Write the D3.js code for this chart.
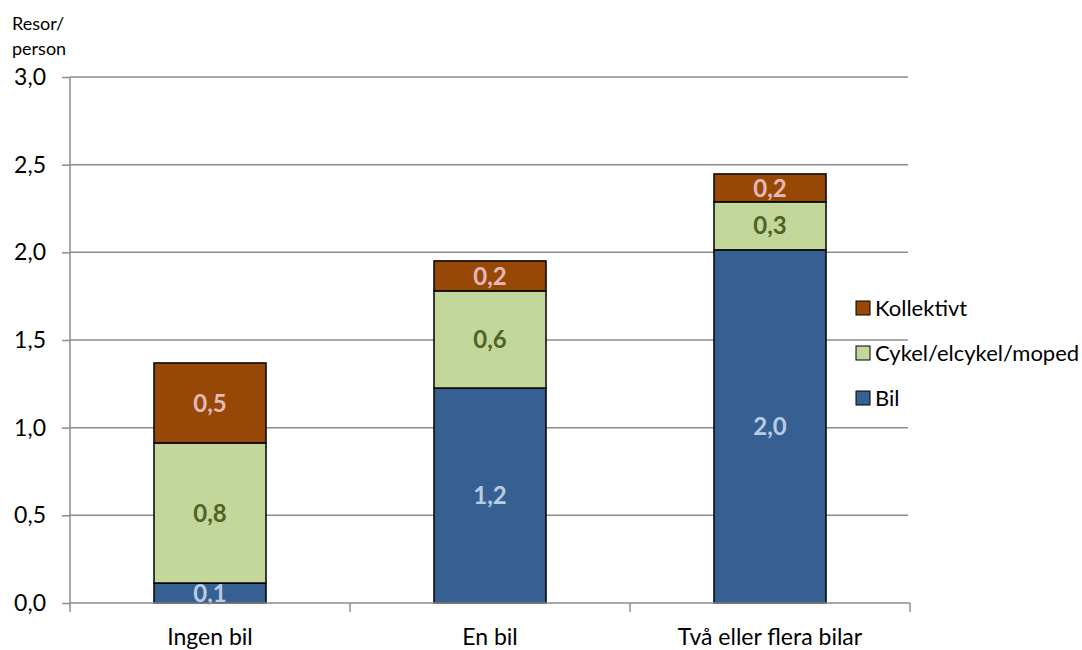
<!DOCTYPE html>
<html>
<head>
<meta charset="utf-8">
<script src="https://cdn.jsdelivr.net/npm/d3@7"></script>
<style>
  body { margin: 0; background: #fff; font-family: Lato, "Open Sans", sans-serif; }
  .grid line { stroke: #8c8c8c; stroke-width: 1.5; }
  .axis text { font-size: 23px; fill: #000; font-family: Lato, sans-serif; }
  .axis path, .axis line { stroke: #8c8c8c; stroke-width: 1.5; }
</style>
</head>
<body>
<div id="main"></div>
<script>
// data
var categories = ['Ingen bil', 'En bil', 'Två eller flera bilar'];
var seriesNames = ['Bil', 'Cykel/elcykel/moped', 'Kollektivt'];
var bil = [0.114, 1.226, 2.014];
var cykel = [0.799, 0.554, 0.274];
var kollektivt = [0.456, 0.171, 0.159];
var labelsBil = ['0,1', '1,2', '2,0'];
var labelsCykel = ['0,8', '0,6', '0,3'];
var labelsKoll = ['0,5', '0,2', '0,2'];
var yTicks = [0, 0.5, 1, 1.5, 2, 2.5, 3];

var fills = ['#366092', '#c4d79b', '#974806'];
var textColors = ['#b8cce4', '#4f6228', '#e6b9b8'];

var width = 1082;
var height = 650;

var svg = d3.select('#main')
  .append('svg')
  .attr('width', width)
  .attr('height', height);

var x = d3.scaleBand()
  .domain(categories)
  .range([70, 910])
  .paddingInner(0.6)
  .paddingOuter(0.3);

var y = d3.scaleLinear()
  .domain([0, 3])
  .range([603, 77]);

// gridlines
svg.append('g')
  .attr('class', 'grid')
  .selectAll('line')
  .data(yTicks.slice(1))
  .enter().append('line')
  .attr('x1', 70)
  .attr('x2', 908)
  .attr('y1', function(d) { return y(d); })
  .attr('y2', function(d) { return y(d); });

// stack
var rows = categories.map(function(c, i) {
  return { cat: c, 'Bil': bil[i], 'Cykel/elcykel/moped': cykel[i], 'Kollektivt': kollektivt[i],
           labels: [labelsBil[i], labelsCykel[i], labelsKoll[i]] };
});
var stacked = d3.stack().keys(seriesNames)(rows);

var layers = svg.selectAll('.layer')
  .data(stacked)
  .enter().append('g')
  .attr('class', 'layer');

layers.each(function(layer, li) {
  var g = d3.select(this);
  g.selectAll('rect')
    .data(layer)
    .enter().append('rect')
    .attr('x', function(d) { return x(d.data.cat); })
    .attr('width', x.bandwidth())
    .attr('y', function(d) { return y(d[1]); })
    .attr('height', function(d) { return y(d[0]) - y(d[1]); })
    .attr('fill', fills[li])
    .attr('stroke', '#000')
    .attr('stroke-width', 1.5);
});

layers.each(function(layer, li) {
  d3.select(this).selectAll('text')
    .data(layer)
    .enter().append('text')
    .attr('x', function(d) { return x(d.data.cat) + x.bandwidth() / 2; })
    .attr('y', function(d) { return (y(d[0]) + y(d[1])) / 2; })
    .attr('dy', '0.36em')
    .attr('text-anchor', 'middle')
    .attr('font-size', '24px')
    .attr('font-weight', 'bold')
    .attr('fill', textColors[li])
    .text(function(d) { return d.data.labels[li]; });
});

// axes
svg.append('g')
  .attr('class', 'axis')
  .attr('transform', 'translate(70,0)')
  .call(d3.axisLeft(y)
    .tickValues(yTicks)
    .tickSize(8)
    .tickPadding(16)
    .tickFormat(function(d) { return d3.format('.1f')(d).replace('.', ','); }))
  .call(function(g) { g.select('.domain').attr('d', 'M0,603V77'); });

var xAxis = svg.append('g')
  .attr('class', 'axis')
  .attr('transform', 'translate(0,603)');
xAxis.append('line')
  .attr('x1', 70).attr('x2', 910);
xAxis.selectAll('.tk')
  .data([70, 350, 630, 910])
  .enter().append('line')
  .attr('class', 'tk')
  .attr('x1', function(d) { return d; })
  .attr('x2', function(d) { return d; })
  .attr('y1', 0).attr('y2', 9);
xAxis.selectAll('text')
  .data(categories)
  .enter().append('text')
  .attr('x', function(d) { return x(d) + x.bandwidth() / 2; })
  .attr('y', 42)
  .attr('font-size', '26px')
  .attr('text-anchor', 'middle')
  .text(function(d) { return d; });

// y axis title
svg.append('text')
  .attr('x', 12).attr('y', 30)
  .attr('font-size', '18px')
  .text('Resor/');
svg.append('text')
  .attr('x', 12).attr('y', 55)
  .attr('font-size', '18px')
  .text('person');

// legend
var legendItems = [2, 1, 0];
var legend = svg.append('g')
  .selectAll('g')
  .data(legendItems)
  .enter().append('g')
  .attr('transform', function(d, i) { return 'translate(856,' + (308 + i * 45) + ')'; });
legend.append('rect')
  .attr('x', 0).attr('y', -7)
  .attr('width', 14).attr('height', 14)
  .attr('fill', function(d) { return fills[d]; })
  .attr('stroke', '#000')
  .attr('stroke-width', 1);
legend.append('text')
  .attr('x', 19)
  .attr('dy', '0.36em')
  .attr('font-size', '22px')
  .text(function(d) { return seriesNames[d]; });
</script>
</body>
</html>
